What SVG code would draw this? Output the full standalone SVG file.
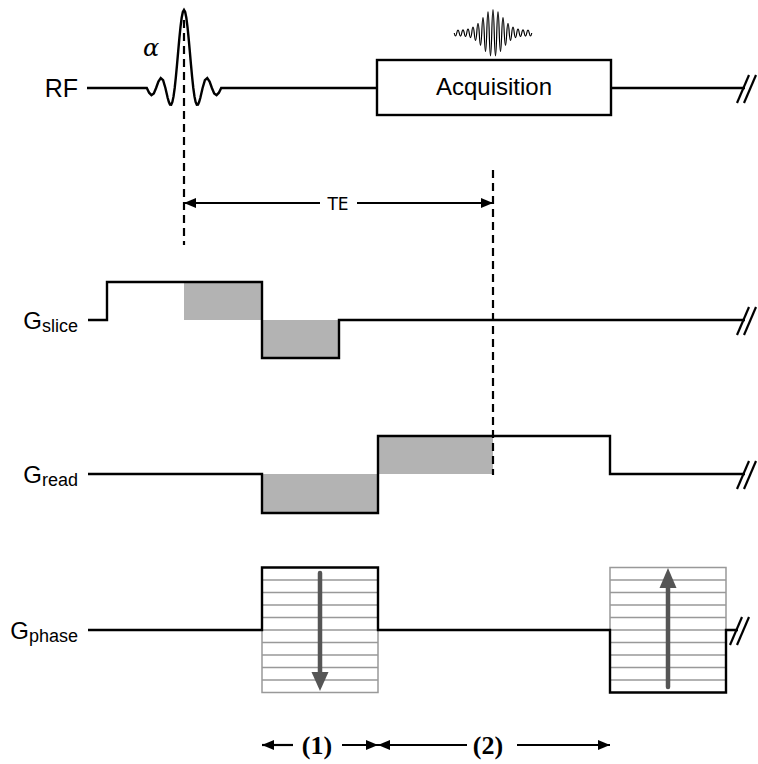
<svg xmlns="http://www.w3.org/2000/svg" width="758" height="764" viewBox="0 0 758 764">
<style>
.w{fill:none;stroke:#000;stroke-width:2.4;stroke-linejoin:miter}
.sh{fill:#b3b3b3;stroke:none}
.gl{fill:none;stroke:#999;stroke-width:1.5}
.dash{fill:none;stroke:#000;stroke-width:2.2;stroke-dasharray:8 5}
.ar{fill:none;stroke:#000;stroke-width:2.2}
.lab{font-family:"Liberation Sans",Arial,sans-serif;fill:#000}
.brk{stroke:#000;stroke-width:2.2}
.big{stroke:#555;stroke-width:4.5;stroke-linecap:round}
</style>
<defs>
<marker id="ah" markerUnits="userSpaceOnUse" markerWidth="13" markerHeight="10" refX="12" refY="5" orient="auto-start-reverse" viewBox="0 0 13 10">
<path d="M0,0 L12,5 L0,10 z" fill="#000"/>
</marker>
<g id="brk"><line class="brk" x1="-8" y1="15" x2="4" y2="-13"/><line class="brk" x1="-1" y1="15" x2="11" y2="-13"/></g>
</defs>
<rect width="758" height="764" fill="#fff"/>

<g id="rf">
<text class="lab" x="78" y="97" font-size="25" text-anchor="end">RF</text>
<text x="151" y="56" font-family="'DejaVu Serif','Liberation Serif',serif" font-style="italic" font-size="24" text-anchor="middle">α</text>
<polyline class="w" stroke-linejoin="round" points="87,88 146.8,88 149.1,92.7 151.45,95.1 153.8,93.4 156.1,88 158.4,81.6 160.75,78.1 163.1,80.2 165.4,88 166.56,93.1 167.7,98 168.89,102.1 170,104.6 171.21,104.7 172.4,102 173.54,96.4 174.7,88 175.86,77.1 177.02,64.6 178.19,51.3 179.35,38.3 180.51,26.8 181.67,17.8 182.84,12 184,10 185.16,12 186.33,17.8 187.49,26.8 188.65,38.3 189.81,51.3 190.98,64.6 192.14,77.1 193.3,88 194.46,96.4 195.6,102 196.79,104.7 198,104.6 199.11,102.1 200.3,98 201.44,93.1 202.6,88 204.9,80.2 207.25,78.1 209.6,81.6 211.9,88 214.2,93.4 216.55,95.1 218.9,92.7 221.2,88 377,88"/>
<path class="w" d="M611,88 H745"/>
<use href="#brk" x="745" y="88"/>
</g>

<g id="acquisition">
<rect x="377" y="60" width="234" height="55" fill="#fff" stroke="#000" stroke-width="2.4"/>
<text class="lab" x="494" y="95" font-size="24" text-anchor="middle">Acquisition</text>
<path fill="none" stroke="#000" stroke-width="1.2" stroke-linejoin="round" d="M454.25,33 q1.25,6 2.5,0 q1.25,-6 2.5,0 q1.25,6.2 2.5,0 q1.25,-6.4 2.5,0 q1.25,7 2.5,0 q1.25,-7.8 2.5,0 q1.25,9.2 2.5,0 q1.25,-11.6 2.5,0 q1.25,14.8 2.5,0 q1.25,-19.4 2.5,0 q1.25,24.8 2.5,0 q1.25,-30.8 2.5,0 q1.25,37 2.5,0 q1.25,-42.2 2.5,0 q1.25,45.8 2.5,0 q1.25,-47 2.5,0 q1.25,45.8 2.5,0 q1.25,-42.2 2.5,0 q1.25,37 2.5,0 q1.25,-30.8 2.5,0 q1.25,24.8 2.5,0 q1.25,-19.4 2.5,0 q1.25,14.8 2.5,0 q1.25,-11.6 2.5,0 q1.25,9.2 2.5,0 q1.25,-7.8 2.5,0 q1.25,7 2.5,0 q1.25,-6.4 2.5,0 q1.25,6.2 2.5,0 q1.25,-6 2.5,0 q1.25,6 2.5,0"/>
</g>

<g id="gslice">
<rect class="sh" x="184" y="282" width="78" height="38"/>
<rect class="sh" x="262" y="320" width="77" height="38"/>
<path class="w" d="M88,320 H107 V282 H262 V358 H339 V320 H745"/>
<use href="#brk" x="745" y="320"/>
<text class="lab" x="78" y="328.5" font-size="24" text-anchor="end">G<tspan font-size="18" dy="3">slice</tspan></text>
</g>

<g id="gread">
<rect class="sh" x="262" y="474" width="116" height="39"/>
<rect class="sh" x="378" y="436" width="115" height="38"/>
<path class="w" d="M88,474 H262 V513 H378 V436 H610 V474 H745"/>
<use href="#brk" x="745" y="474"/>
<text class="lab" x="78" y="482.5" font-size="24" text-anchor="end">G<tspan font-size="18" dy="3">read</tspan></text>
</g>

<g id="gphase">
<path class="gl" d="M262,630 V692.5 H378 V630 M262,580 H378 M262,592.5 H378 M262,605 H378 M262,617.5 H378 M262,630 H378 M262,642.5 H378 M262,655 H378 M262,667.5 H378 M262,680 H378"/>
<path class="gl" d="M610,630 V567.5 H726 V630 M610,580 H726 M610,592.5 H726 M610,605 H726 M610,617.5 H726 M610,630 H726 M610,642.5 H726 M610,655 H726 M610,667.5 H726 M610,680 H726"/>
<path class="w" d="M88,630 H262 V567.5 H378 V630 H610 V692.5 H726 V630 H738"/>
<use href="#brk" x="738" y="630"/>
<line class="big" x1="320" y1="573" x2="320" y2="676"/>
<polygon points="311.5,672 328.5,672 320,691" fill="#555"/>
<line class="big" x1="668" y1="687" x2="668" y2="585"/>
<polygon points="659.5,588 676.5,588 668,568" fill="#555"/>
<text class="lab" x="78" y="638.5" font-size="24" text-anchor="end">G<tspan font-size="18" dy="3">phase</tspan></text>
</g>

<g id="connectors">
<line class="dash" x1="184" y1="20" x2="184" y2="245"/>
<line class="dash" x1="493" y1="170" x2="493" y2="475"/>
<line class="ar" x1="184" y1="203" x2="320" y2="203" marker-start="url(#ah)"/>
<line class="ar" x1="357" y1="203" x2="493" y2="203" marker-end="url(#ah)"/>
<line class="ar" x1="262" y1="745" x2="293" y2="745" marker-start="url(#ah)"/>
<line class="ar" x1="342" y1="745" x2="378" y2="745" marker-end="url(#ah)"/>
<line class="ar" x1="378" y1="745" x2="467" y2="745" marker-start="url(#ah)"/>
<line class="ar" x1="517" y1="745" x2="610" y2="745" marker-end="url(#ah)"/>
</g>

<g id="labels">
<text x="338" y="209.5" font-family="'DejaVu Sans',sans-serif" font-size="17" text-anchor="middle">TE</text>
<text x="317" y="754" font-family="'Liberation Serif',serif" font-weight="bold" font-size="26" text-anchor="middle">(1)</text>
<text x="488" y="754" font-family="'Liberation Serif',serif" font-weight="bold" font-size="26" text-anchor="middle">(2)</text>
</g>
</svg>
